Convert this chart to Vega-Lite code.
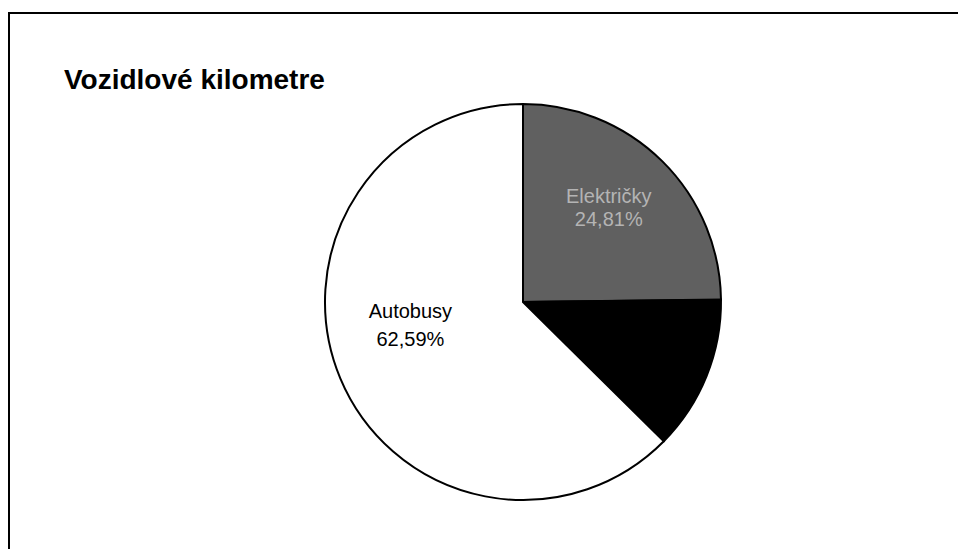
{
  "$schema": "https://vega.github.io/schema/vega-lite/v6.json",
  "autosize": "none",
  "width": 1028,
  "height": 578,
  "padding": {"left": 9, "top": 13, "right": 0, "bottom": 0},
  "background": "white",
  "view": {"stroke": "black", "strokeWidth": 2, "fill": "white"},
  "title": {
    "text": "Vozidlové kilometre",
    "anchor": "start",
    "frame": "group",
    "baseline": "alphabetic",
    "offset": 0,
    "dx": 55,
    "dy": 104,
    "font": "Liberation Sans",
    "fontSize": 28,
    "fontWeight": "bold",
    "color": "black"
  },
  "data": {
    "values": [
      {"name": "Električky", "value": 24.81, "pct": "24,81%", "idx": 1},
      {"name": "Trolejbusy", "value": 12.60, "pct": "12,60%", "idx": 2},
      {"name": "Autobusy", "value": 62.59, "pct": "62,59%", "idx": 3}
    ]
  },
  "encoding": {
    "theta": {"field": "value", "type": "quantitative", "stack": true},
    "order": {"field": "idx", "type": "quantitative", "sort": "ascending"}
  },
  "layer": [
    {
      "mark": {"type": "arc", "radius": 198, "stroke": "black", "strokeWidth": 2},
      "encoding": {
        "color": {
          "field": "name",
          "type": "nominal",
          "scale": {"domain": ["Električky", "Trolejbusy", "Autobusy"], "range": ["#606060", "#000000", "#ffffff"]},
          "legend": null
        }
      }
    },
    {
      "mark": {"type": "text", "radius": 122, "font": "Liberation Sans", "fontSize": 20, "baseline": "alphabetic", "dy": -31, "color": "black"},
      "encoding": {"text": {"condition": {"test": "datum.name === 'Autobusy'", "field": "name"}, "value": ""}}
    },
    {
      "mark": {"type": "text", "radius": 122, "font": "Liberation Sans", "fontSize": 20, "baseline": "alphabetic", "dy": -3, "color": "black"},
      "encoding": {"text": {"condition": {"test": "datum.name === 'Autobusy'", "field": "pct"}, "value": ""}}
    },
    {
      "mark": {"type": "text", "radius": 122, "font": "Liberation Sans", "fontSize": 20, "baseline": "alphabetic", "dy": -12},
      "encoding": {
        "text": {"condition": {"test": "datum.name !== 'Autobusy'", "field": "name"}, "value": ""},
        "color": {"condition": {"test": "datum.name === 'Električky'", "value": "#b4b4b4"}, "value": "black"}
      }
    },
    {
      "mark": {"type": "text", "radius": 122, "font": "Liberation Sans", "fontSize": 20, "baseline": "alphabetic", "dy": 11},
      "encoding": {
        "text": {"condition": {"test": "datum.name !== 'Autobusy'", "field": "pct"}, "value": ""},
        "color": {"condition": {"test": "datum.name === 'Električky'", "value": "#b4b4b4"}, "value": "black"}
      }
    }
  ]
}
